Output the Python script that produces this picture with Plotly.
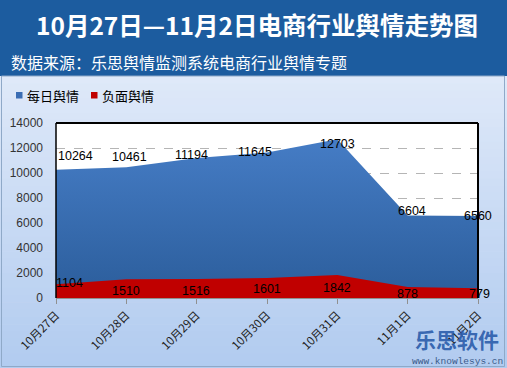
import plotly.graph_objects as go

# ---- data ----
categories = ["10月27日", "10月28日", "10月29日", "10月30日", "10月31日", "11月1日", "11月2日"]
daily = [10264, 10461, 11194, 11645, 12703, 6604, 6560]
negative = [1104, 1510, 1516, 1601, 1842, 878, 779]
series_names = ["每日舆情", "负面舆情"]
y_ticks = [0, 2000, 4000, 6000, 8000, 10000, 12000, 14000]

# ---- layout geometry (pixels) ----
W, H = 507, 368
L, R, T, B = 56, 29, 123, 70
PW, PH = W - L - R, H - T - B


def px_x(p):
    return (p - L) / PW


def px_y(p):
    return (H - B - p) / PH


# label offsets (style)
daily_dx = [19, 3, -5, -12, 0, 4, 0]
daily_dy = [14, 10, 3, 0, -5, 4, 0]
neg_dx = [13, 0, -1, 0, 0, 0, 1]
neg_dy = [1, -12, -12, -11, -13, -7, -6]

fig = go.Figure()
fig.add_trace(go.Scatter(
    x=categories, y=daily, mode="none", fill="tozeroy", name=series_names[0],
    fillgradient=dict(type="vertical", start=0, stop=13000,
                      colorscale=[[0, "#2b5d9b"], [1, "#467dc6"]]),
    showlegend=False, hoverinfo="skip"))
fig.add_trace(go.Scatter(
    x=categories, y=negative, mode="none", fill="tozeroy", name=series_names[1],
    fillcolor="#c00000", showlegend=False, hoverinfo="skip"))

shapes = []
# background gradient strips
top_c = (223, 233, 249)
bot_c = (178, 204, 240)
n = 40
y0p, y1p = 76, 368
for i in range(n):
    a = i / (n - 1)
    c = tuple(int(top_c[k] + (bot_c[k] - top_c[k]) * a) for k in range(3))
    ya = y0p + (y1p - y0p) * i / n
    yb = y0p + (y1p - y0p) * (i + 1) / n + 0.5
    shapes.append(dict(type="rect", xref="paper", yref="paper", layer="below",
                       x0=px_x(0), x1=px_x(W), y0=px_y(ya), y1=px_y(yb),
                       line=dict(width=0), fillcolor="rgb(%d,%d,%d)" % c))
# title bar
shapes.append(dict(type="rect", xref="paper", yref="paper", layer="below",
                   x0=px_x(0), x1=px_x(W), y0=px_y(0), y1=px_y(76),
                   line=dict(width=0), fillcolor="#1c5c9f"))
# outer frame of the light area
shapes.append(dict(type="rect", xref="paper", yref="paper", layer="above",
                   x0=px_x(1.5), x1=px_x(504.5), y0=px_y(76), y1=px_y(366.5),
                   line=dict(width=1, color="#8fa9c8"), fillcolor="rgba(0,0,0,0)"))
# white plot area
shapes.append(dict(type="rect", xref="paper", yref="paper", layer="below",
                   x0=0, x1=1, y0=0, y1=1, line=dict(width=0), fillcolor="white"))
# plot area black border: top, left, right
shapes.append(dict(type="line", xref="paper", yref="paper", layer="above",
                   x0=0, x1=1, y0=1, y1=1, line=dict(width=2, color="black")))
shapes.append(dict(type="line", xref="paper", yref="paper", layer="above",
                   x0=0, x1=0, y0=0, y1=1, line=dict(width=1.5, color="black")))
shapes.append(dict(type="line", xref="paper", yref="paper", layer="above",
                   x0=1, x1=1, y0=0, y1=1, line=dict(width=2, color="black")))
# legend squares
shapes.append(dict(type="rect", xref="paper", yref="paper", layer="above",
                   x0=px_x(16), x1=px_x(22.5), y0=px_y(92), y1=px_y(98.5),
                   line=dict(width=0), fillcolor="#3a6db4"))
shapes.append(dict(type="rect", xref="paper", yref="paper", layer="above",
                   x0=px_x(91), x1=px_x(97.5), y0=px_y(92), y1=px_y(98.5),
                   line=dict(width=0), fillcolor="#c00000"))

annotations = []
lab_font = dict(family="Liberation Sans, Arial", size=12.5, color="black")
for c, v, dx, dy in zip(categories, daily, daily_dx, daily_dy):
    annotations.append(dict(x=c, y=v, xref="x", yref="y", text=str(v), showarrow=False,
                            xanchor="center", yanchor="middle",
                            xshift=dx, yshift=dy, font=lab_font))
for c, v, dx, dy in zip(categories, negative, neg_dx, neg_dy):
    annotations.append(dict(x=c, y=v, xref="x", yref="y", text=str(v), showarrow=False,
                            xanchor="center", yanchor="middle",
                            xshift=dx, yshift=dy, font=lab_font))

cjk = "Noto Sans CJK SC"


def paper_text(x, y, text, font, xanchor="center"):
    annotations.append(dict(x=px_x(x), y=px_y(y), xref="paper", yref="paper",
                            xanchor=xanchor, yanchor="middle", text=text,
                            showarrow=False, font=font))


paper_text(257, 25, "<b>10月27日—11月2日电商行业舆情走势图</b>",
           dict(family=cjk, size=24.5, color="white"))
paper_text(9, 62, "数据来源：乐思舆情监测系统电商行业舆情专题",
           dict(family=cjk, size=16, color="white"), "left")
paper_text(25, 95, series_names[0], dict(family=cjk, size=13, color="black"), "left")
paper_text(100, 95, series_names[1], dict(family=cjk, size=13, color="black"), "left")
paper_text(457, 339, "<b>乐思软件</b>", dict(family=cjk, size=21, color="rgba(40,90,170,0.9)"))
paper_text(457, 361, "www.knowlesys.cn", dict(family="Liberation Mono", size=9.5, color="#3a5a8a"))

fig.update_layout(
    width=W, height=H,
    margin=dict(l=L, r=R, t=T, b=B, pad=0, autoexpand=False),
    paper_bgcolor="#dfe9f9",
    plot_bgcolor="white",
    shapes=shapes,
    annotations=annotations,
    showlegend=False,
    xaxis=dict(type="category", range=[0, len(categories) - 1], showgrid=False,
               automargin=False,
               showline=True, linecolor="#909090", linewidth=1,
               ticks="outside", ticklen=5, tickcolor="#909090", tickangle=-45,
               tickfont=dict(family=cjk, size=11.5, color="#222222"), zeroline=False),
    yaxis=dict(range=[0, 14000], tickvals=y_ticks, tickformat="d", showgrid=True,
               automargin=False,
               gridcolor="#b5b5b5", griddash="dash", gridwidth=1, zeroline=False,
               showline=False, ticks="", ticklabelstandoff=12,
               tickfont=dict(family="Liberation Sans, Arial", size=12, color="#333333")),
)

fig.write_html("out.html", config={"displayModeBar": False},
               post_script="document.body.style.margin='0px';document.body.style.overflow='hidden';")
